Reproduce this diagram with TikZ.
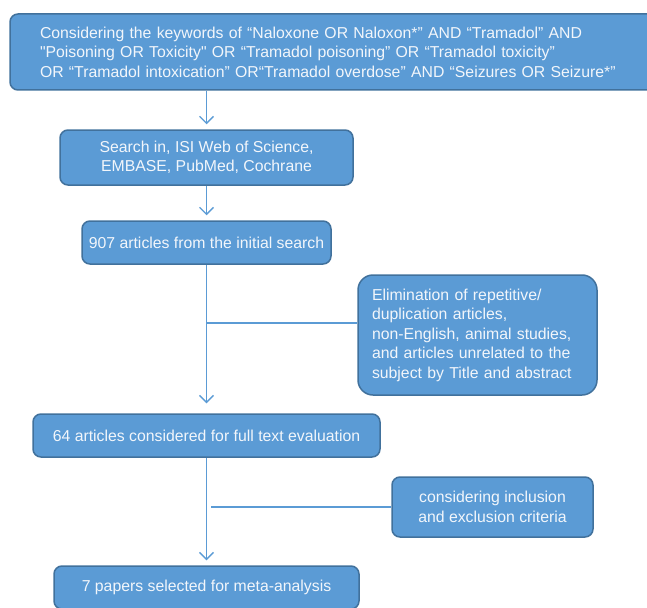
\documentclass[tikz,border=0pt]{standalone}
\usepackage{fontspec}
\setmainfont{Liberation Sans}
\usetikzlibrary{arrows.meta}
\definecolor{boxfill}{HTML}{5B9BD5}
\definecolor{boxline}{HTML}{41719C}
\definecolor{boxtext}{HTML}{F2F6FB}

\begin{document}
\begin{tikzpicture}[x=1pt, y=-1pt,
    box/.style = {draw=boxline, line width=1.5pt, fill=boxfill, text=boxtext,
                  rounded corners=8pt, inner sep=0pt,
                  font=\fontsize{15.8}{19.5}\selectfont, align=center},
    flow/.style = {draw=boxfill, line width=1.4pt,
                   -{Straight Barb[length=7pt,width=14pt,line width=1.3pt]}, shorten >=5pt},
    branch/.style = {draw=boxfill, line width=1.4pt}]
    \clip (0,0) rectangle (647,607);
    \useasboundingbox (0,0) rectangle (647,607);

    % search terms
    \node[box, minimum width=655pt, minimum height=76pt, text width=595pt,
          inner xsep=30pt, align=left] (keys) at (337.5,52)
        {Considering the keywords of “Naloxone OR Naloxon*” AND “Tramadol” AND\\
         \textquotedbl Poisoning OR Toxicity\textquotedbl{} OR “Tramadol poisoning” OR “Tramadol toxicity”\\
         OR “Tramadol intoxication” OR“Tramadol overdose” AND “Seizures OR Seizure*”};

    % databases and counts
    \node[box, minimum width=293pt, minimum height=55pt] (search) at (206.5,157.5)
        {Search in, ISI Web of Science,\\ EMBASE, PubMed, Cochrane};
    \node[box, minimum width=249pt, minimum height=43pt] (initial) at (206.5,242.5)
        {907 articles from the initial search};
    \node[box, minimum width=347pt, minimum height=43pt] (fulltext) at (206.5,435.5)
        {64 articles considered for full text evaluation};
    \node[box, minimum width=305pt, minimum height=43pt] (selected) at (206.5,587.5)
        {7 papers selected for meta-analysis};

    % exclusion boxes
    \node[box, rounded corners=15pt, minimum width=239pt, minimum height=120pt,
          text width=211pt, inner xsep=14pt, align=left] (elim) at (477.5,335)
        {Elimination of repetitive/\\ duplication articles,\\ non-English, animal studies,\\
         and articles unrelated to the\\ subject by Title and abstract};
    \node[box, minimum width=201pt, minimum height=60pt] (criteria) at (492.5,507)
        {considering inclusion\\ and exclusion criteria};

    \coordinate (split1) at (206.5,323);
    \coordinate (split2) at (211,507);

    \draw[flow] (keys.south -| search) -- (search);
    \draw[flow] (search) -- (initial);
    \draw[flow, shorten >=10pt] (initial) -- (fulltext);
    \draw[flow] (fulltext) -- (selected);
    \draw[branch] (split1) -- (elim.west |- split1);
    \draw[branch] (split2) -- (criteria.west |- split2);
\end{tikzpicture}
\end{document}
